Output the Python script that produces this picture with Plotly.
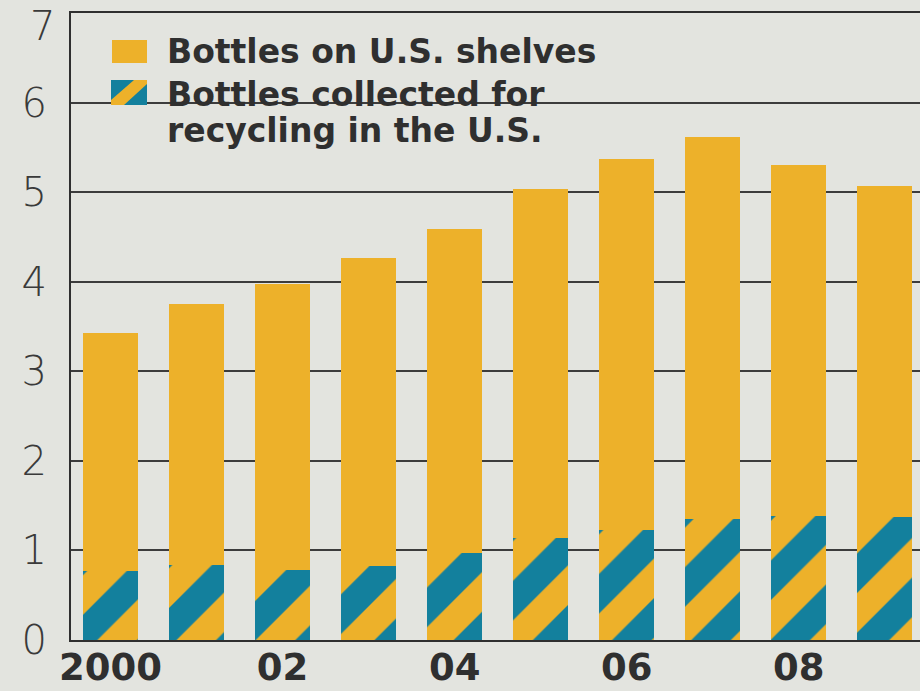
import plotly.graph_objects as go

# Bottles of water, billions
years = [2000, 2001, 2002, 2003, 2004, 2005, 2006, 2007, 2008, 2009]
on_shelves = [3.43, 3.75, 3.98, 4.26, 4.59, 5.03, 5.37, 5.62, 5.30, 5.07]
collected = [0.77, 0.84, 0.78, 0.83, 0.97, 1.14, 1.23, 1.35, 1.39, 1.37]

x_tickvals = [2000, 2002, 2004, 2006, 2008]
x_ticktext = ["2000", "02", "04", "06", "08"]
y_tickvals = [0, 1, 2, 3, 4, 5, 6]
y_ticktext = ["0", "1", "2", "3", "4", "5", "6"]
y_top = 7

legend_labels = ["Bottles on U.S. shelves", "Bottles collected for", "recycling in the U.S."]

YELLOW = "#EDB12A"
TEAL = "#13809D"
BG = "#E3E4DF"
INK = "#2f2f2f"

fig = go.Figure()
fig.add_trace(go.Bar(
    x=years, y=on_shelves, width=0.64,
    marker=dict(color=YELLOW, line=dict(width=0)),
    name=legend_labels[0],
))
fig.add_trace(go.Bar(
    x=years, y=collected, width=0.64,
    marker=dict(
        color=YELLOW, line=dict(width=0),
        pattern=dict(shape="/", fgcolor=TEAL, bgcolor=YELLOW,
                     size=56, solidity=0.5, fillmode="replace"),
    ),
    name=legend_labels[1],
))

# plot area in pixels: x 71..920, y 13..640
def px(xp):
    return (xp - 71) / 849

def py(yp):
    return (640 - yp) / 627

shapes = [
    # gap in the 6 gridline behind the key
    dict(type="rect", xref="paper", yref="paper", layer="between",
         x0=px(97), x1=px(671), y0=py(92), y1=py(112),
         fillcolor=BG, line=dict(width=0)),
    # key swatch: shelves
    dict(type="rect", xref="paper", yref="paper",
         x0=px(112), x1=px(147), y0=py(63), y1=py(40),
         fillcolor=YELLOW, line=dict(width=0)),
    # key swatch: collected (teal with a yellow diagonal band)
    dict(type="rect", xref="paper", yref="paper",
         x0=px(111), x1=px(147), y0=py(105), y1=py(80),
         fillcolor=TEAL, line=dict(width=0)),
    dict(type="path", xref="paper", yref="paper",
         path=(f"M{px(111)},{py(100)} L{px(134)},{py(80)} L{px(147)},{py(80)} "
               f"L{px(147)},{py(84)} L{px(124)},{py(105)} L{px(111)},{py(105)} Z"),
         fillcolor=YELLOW, line=dict(width=0)),
]

annotations = []
for label, ymid in zip(legend_labels, [52, 94, 130]):
    annotations.append(dict(
        text=f"<b>{label}</b>", xref="paper", yref="paper",
        x=px(165), y=py(ymid), xanchor="left", yanchor="middle",
        showarrow=False,
        font=dict(family="DejaVu Sans", size=33, color=INK),
    ))

# top value of the scale, set just under the frame line
annotations.append(dict(
    text=str(y_top), xref="paper", yref="paper",
    x=px(57), y=py(26), xanchor="right", yanchor="middle",
    showarrow=False,
    font=dict(family="DejaVu Sans", size=40, color="#3a3a3a", weight=200),
))

fig.update_layout(
    width=920, height=691,
    margin=dict(l=71, r=0, t=13, b=51),
    paper_bgcolor=BG, plot_bgcolor=BG,
    barmode="overlay", bargap=0,
    showlegend=False,
    shapes=shapes, annotations=annotations,
    xaxis=dict(
        range=[1999.54, 2009.41],
        tickvals=x_tickvals, ticktext=x_ticktext,
        showgrid=False, zeroline=False,
        showline=True, linecolor=INK, linewidth=2, mirror=True,
        ticks="", ticklen=0, ticklabelstandoff=-6, automargin=False,
        tickfont=dict(family="DejaVu Sans", size=37, color=INK, weight="bold"),
    ),
    yaxis=dict(
        range=[0, y_top],
        tickvals=y_tickvals, ticktext=y_ticktext,
        showgrid=True, gridcolor="#3c3c3c", gridwidth=1.6,
        zeroline=False,
        showline=True, linecolor=INK, linewidth=2,
        ticks="", ticklabelstandoff=14, automargin=False,
        tickfont=dict(family="DejaVu Sans", size=40, color="#3a3a3a", weight=200),
    ),
)

fig.write_html("out.html")
